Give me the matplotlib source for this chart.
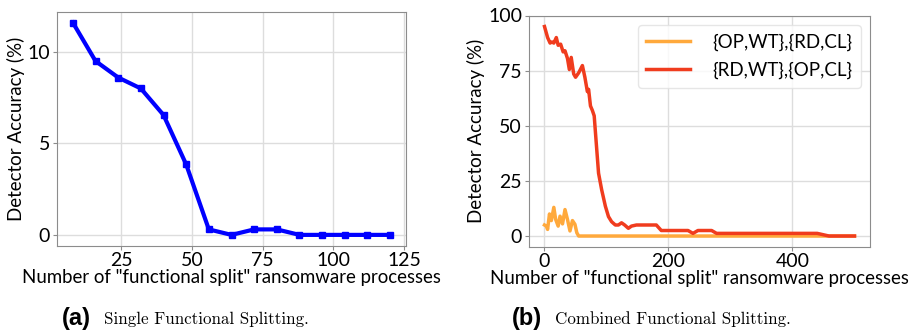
import numpy as np
import matplotlib
matplotlib.use("Agg")
import matplotlib.pyplot as plt

plt.rcParams['font.family'] = ['Lato', 'DejaVu Sans']

# (a) single functional splitting
single_x = [8, 16, 24, 32, 40, 48, 56, 64, 72, 80, 88, 96, 104, 112, 120]
single_y = [11.6, 9.5, 8.6, 8.0, 6.55, 3.85, 0.3, 0.0, 0.3, 0.3, 0.0, 0.0, 0.0, 0.0, 0.0]

# (b) combined functional splitting
opwt_x = [1, 4, 6, 9, 12, 16, 19, 23, 26, 30, 34, 38, 42, 46, 50, 53, 56, 500]
opwt_y = [5, 4.5, 3, 10, 7, 13, 7.5, 4.5, 9, 5.5, 12, 7.5, 2.3, 7, 5.3, 1.5, 0, 0]

rdwt_x = [1, 3, 6, 10, 13, 16, 20, 23, 27, 31, 34, 38, 41, 44, 48, 51, 56, 62, 66, 70, 72, 75,
          78, 81, 83, 88, 93, 99, 104, 109, 115, 120, 125, 130, 136, 141, 149, 160, 173, 181,
          189, 200, 232, 240, 248, 270, 278, 300, 440, 459, 500]
rdwt_y = [95, 93, 90, 87.5, 88, 87.5, 90, 86.5, 87, 83.5, 84, 80.5, 75.5, 81, 73.5, 72, 74, 77.3,
          72, 65.5, 66.5, 59, 57, 54.5, 47, 28.5, 21, 13.5, 8.8, 6.5, 5, 5, 6, 5, 3.5, 4.5, 5, 5,
          5, 5, 2.5, 2.5, 2.5, 1.2, 2.5, 2.5, 1.2, 1.2, 1.2, 0, 0]

labels = ['{OP,WT},{RD,CL}', '{RD,WT},{OP,CL}']
colors = ['#ffa93c', '#f03c1e']
xlabel = 'Number of "functional split" ransomware processes'
ylabel = 'Detector Accuracy (%)'

W, H = 911, 335
fig = plt.figure(figsize=(W / 100, H / 100), dpi=100)
ax1 = fig.add_axes([57 / W, 1 - 245.5 / H, 349 / W, 233.5 / H])
ax2 = fig.add_axes([529 / W, 1 - 246.5 / H, 341 / W, 231 / H])


def style(ax):
    ax.grid(True, color='#dddddd', linewidth=1)
    ax.set_axisbelow(True)
    for s in ax.spines.values():
        s.set_color('#8c8c8c')
    ax.tick_params(colors='#8c8c8c', labelcolor='black', labelsize=14, length=3, pad=2)
    ax.set_xlabel(xlabel, fontsize=13.4, labelpad=0)
    ax.set_ylabel(ylabel, fontsize=13.5, labelpad=2)


ax1.plot(single_x, single_y, color='#0000ff', lw=3, marker='s', ms=4)
ax1.set_xticks([25, 50, 75, 100, 125])
ax1.set_yticks([0, 5, 10])
style(ax1)

ax2.plot(opwt_x, opwt_y, color=colors[0], lw=2.5, label=labels[0])
ax2.plot(rdwt_x, rdwt_y, color=colors[1], lw=2.5, label=labels[1])
ax2.set_xticks([0, 200, 400])
ax2.set_yticks([0, 25, 50, 75, 100])
style(ax2)
ax2.legend(loc='upper right', fontsize=13.5, handlelength=2.3, borderpad=0.45,
           labelspacing=0.6, handletextpad=1.2, framealpha=0.8,
           edgecolor='#e0e0e0', fancybox=True)

# captions
cap_y = 1 - 319 / H
fig.text(62 / W, cap_y, '(a)', fontsize=17, fontweight='bold',
         family='Liberation Sans', va='center', ha='left')
fig.text(104 / W, cap_y, 'Single Functional Splitting.', fontsize=12.2,
         family='cmr10', va='center', ha='left')
fig.text(512 / W, cap_y, '(b)', fontsize=17, fontweight='bold',
         family='Liberation Sans', va='center', ha='left')
fig.text(555 / W, cap_y, 'Combined Functional Splitting.', fontsize=12.2,
         family='cmr10', va='center', ha='left')

fig.savefig('out.png', dpi=100)
